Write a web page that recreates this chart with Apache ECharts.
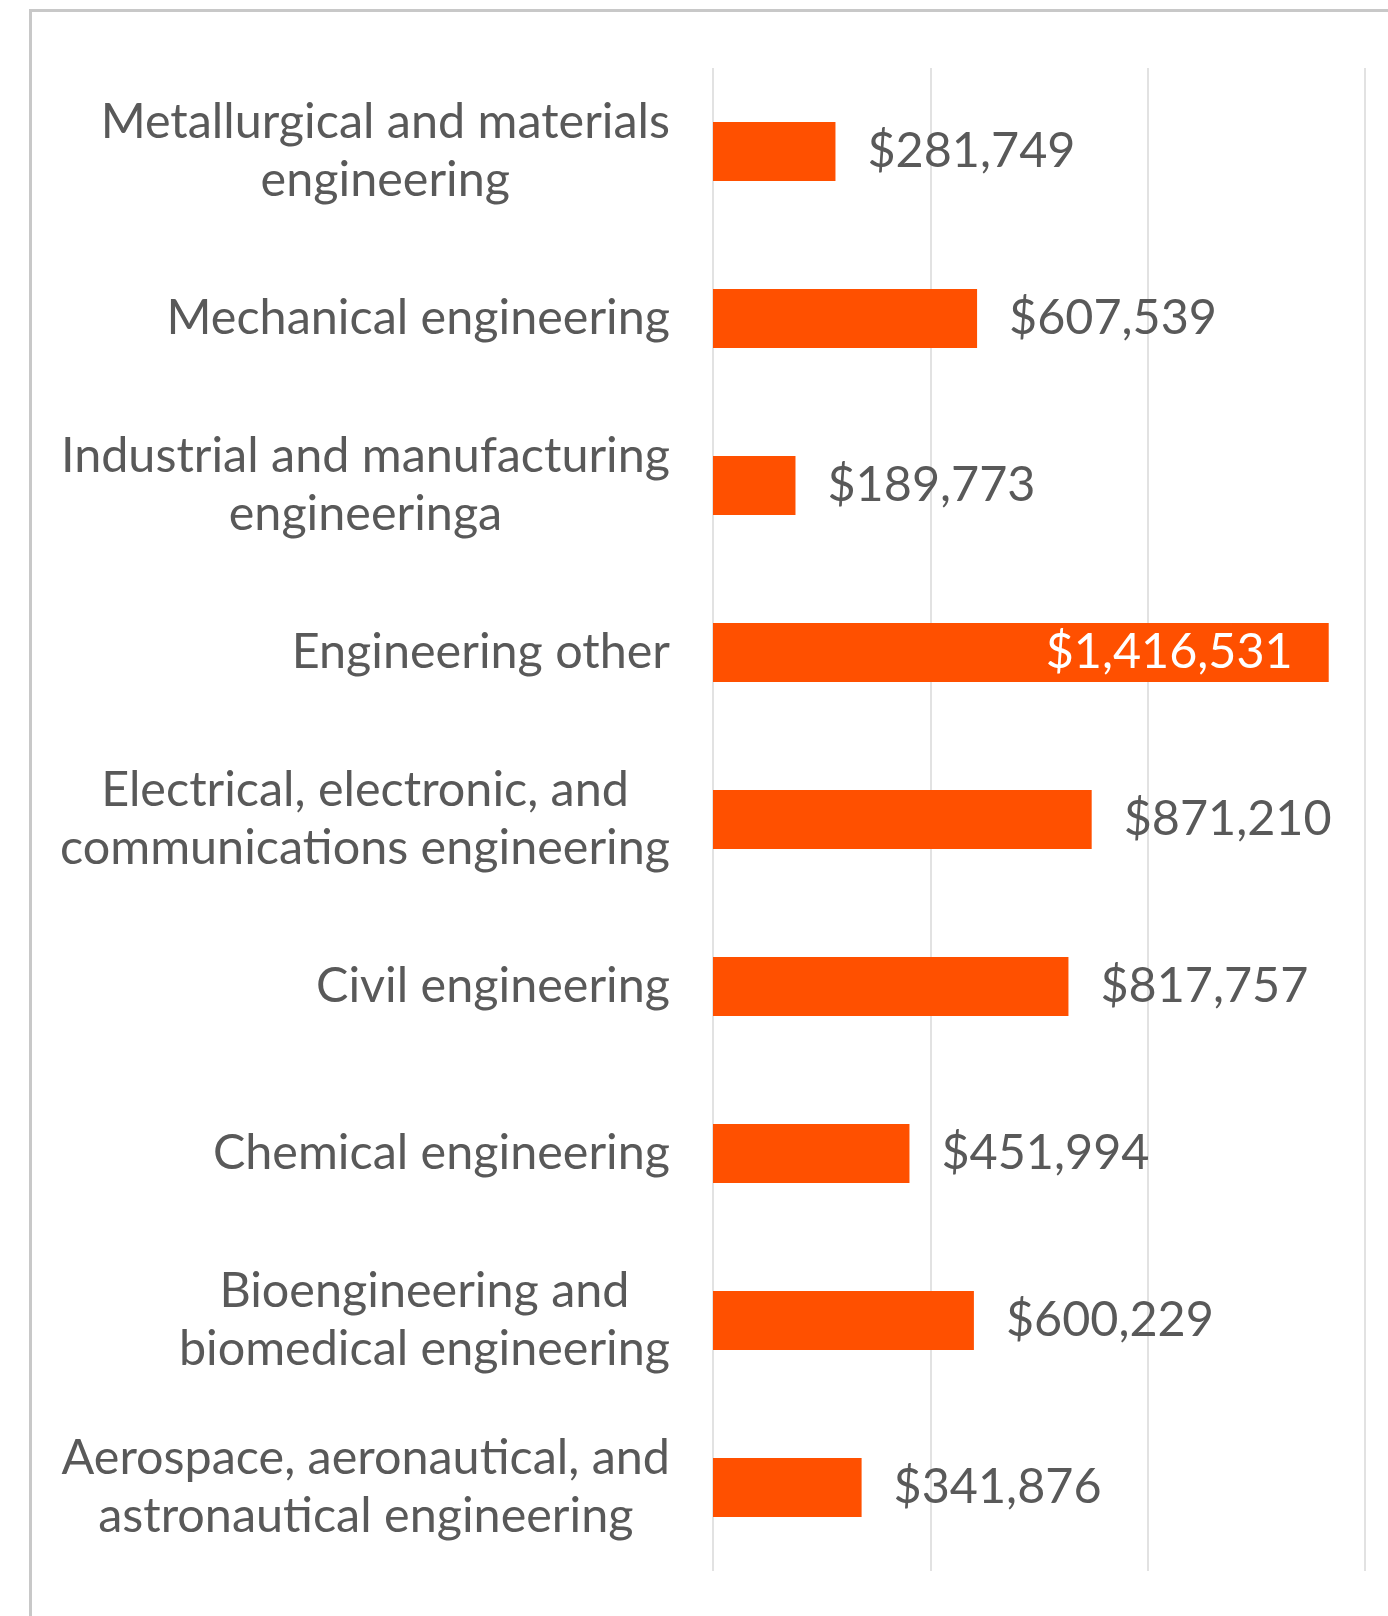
<!DOCTYPE html>
<html>
<head>
<meta charset="utf-8">
<script src="https://cdn.jsdelivr.net/npm/echarts@6/dist/echarts.min.js"></script>
<style>
  html, body { margin: 0; padding: 0; background: #ffffff; }
  #chart { width: 1388px; height: 1616px; }
</style>
</head>
<body>
<div id="chart"></div>
<script>
// Engineering fields, listed top to bottom
const categories = [
  'Metallurgical and materials\nengineering',
  'Mechanical engineering',
  'Industrial and manufacturing\nengineeringa',
  'Engineering other',
  'Electrical, electronic, and\ncommunications engineering',
  'Civil engineering',
  'Chemical engineering',
  'Bioengineering and\nbiomedical engineering',
  'Aerospace, aeronautical, and\nastronautical engineering'
];

// Dollar amounts per field
const amounts = [281749, 607539, 189773, 1416531, 871210, 817757, 451994, 600229, 341876];

// Value axis ticks
const axisMin = 0;
const axisMax = 1500000;
const axisStep = 500000;

const BAR = '#FF5000';
const TEXT = '#595959';
const GRID = '#D9D9D9';
const FRAME = '#C8C8C8';
const FONT = 'Lato, "Open Sans", sans-serif';
const FONT_SIZE = 48.5;

const fmt = v => '$' + v.toLocaleString('en-US');
const maxVal = Math.max.apply(null, amounts);

const chart = echarts.init(document.getElementById('chart'), null, { renderer: 'canvas' });

chart.setOption({
  backgroundColor: '#ffffff',
  animation: false,
  graphic: [{
    type: 'rect',
    shape: { x: 30.5, y: 10.5, width: 1400, height: 1650 },
    style: { fill: 'none', stroke: FRAME, lineWidth: 3 },
    silent: true, z: -1
  }],
  grid: { left: 713, right: 23, top: 68, bottom: 45, containLabel: false },
  xAxis: {
    type: 'value',
    min: axisMin, max: axisMax, interval: axisStep,
    axisLabel: { show: false },
    axisLine: { show: false },
    axisTick: { show: false },
    splitLine: { show: true, lineStyle: { color: GRID, width: 1.5 } }
  },
  yAxis: {
    type: 'category',
    data: categories,
    inverse: true,
    axisLine: { show: false },
    axisTick: { show: false },
    axisLabel: {
      margin: 43,
      align: 'right',
      // lines of a wrapped label are centred on each other
      formatter: v => v.split('\n').map(s => '{c|' + s + '}').join('\n'),
      rich: {
        c: {
          align: 'center',
          color: TEXT,
          fontFamily: FONT,
          fontSize: FONT_SIZE,
          lineHeight: 58
        }
      }
    }
  },
  series: [{
    type: 'bar',
    data: amounts.map(v => ({
      value: v,
      label: v === maxVal
        ? { position: 'insideRight', color: '#ffffff', distance: 36 }
        : { position: 'right', color: TEXT, distance: 32 }
    })),
    barWidth: 59,
    itemStyle: { color: BAR },
    label: {
      show: true,
      fontFamily: FONT,
      fontSize: FONT_SIZE,
      formatter: p => fmt(p.value)
    }
  }]
});
</script>
</body>
</html>
